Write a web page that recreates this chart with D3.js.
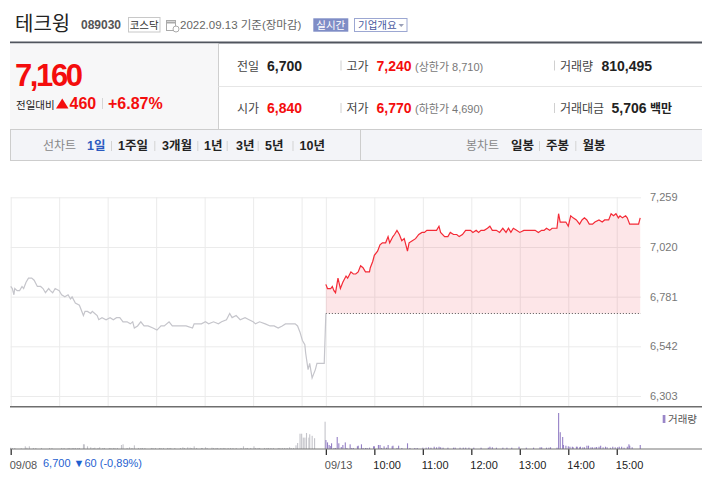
<!DOCTYPE html>
<html>
<head>
<meta charset="utf-8">
<script src="https://cdn.jsdelivr.net/npm/d3@7"></script>
<style>
body { margin: 0; background: #fff; overflow: hidden; }
svg text { font-family: "Liberation Sans", Arial, "Noto Sans CJK KR", sans-serif; }
</style>
</head>
<body>
<div id="chart"></div>
<script>
// ---- data ----
// 09/08 (previous day), minutes from 09:00
var prevMin = [0,2,4,5,8,11,14,16,19,22, 26,29,33,37,40,43,47,49,52,55,
    60,63,67,71,74,76,80,85,90,92, 95,99,101,104,107,109,113,118,123,127,
    131,135,139,144,148,151,153,157,161,165, 170,176,181,186,190,196,200,209,217,225,
    227,232,236,241,245,251,257,261,267,271, 274,279,284,290,295,300,303,308,315,321,
    326,331,336,340,344,348,352,355,358,361, 364,365,368,370,373,377,379,383,388,390];
var prevPrice = [6830,6820,6790,6820,6810,6810,6830,6820,6850,6870, 6870,6860,6830,6830,6820,6800,6820,6810,6800,6820,
    6810,6790,6780,6790,6770,6780,6750,6740,6690,6710, 6710,6700,6710,6700,6690,6670,6680,6670,6680,6670,
    6680,6680,6660,6660,6650,6660,6630,6640,6660,6640, 6640,6630,6620,6640,6640,6660,6640,6640,6640,6630,
    6650,6650,6650,6660,6650,6660,6650,6660,6670,6700, 6680,6690,6670,6680,6670,6660,6650,6660,6650,6640,
    6640,6630,6640,6650,6650,6650,6650,6640,6610,6570, 6550,6510,6430,6460,6390,6430,6460,6460,6460,6700];

// 09/13 (today), minutes from 09:00
var todayMin = [0,2,6,8,10,12,15,18,21,25, 27,31,34,37,40,43,46,49,54,55,
    58,60,64,67,70,74,77,79,83,85, 88,91,94,97,101,103,107,111,115,119,
    122,125,130,133,137,140,142,147,151,154, 158,162,165,169,173,176,179,182,186,189,
    192,196,200,203,206,211,215,219,223,226, 229,232,236,240,245,250,255,259,263,267,
    270,273,277,280,286,288,290,294,297,300, 303,306,310,314,317,320,323,326,330,333,
    338,342,345,350,353,356,359,362,364,367, 371,373,376,380,387,389];
var todayPrice = [6840,6820,6820,6830,6810,6800,6870,6820,6850,6880, 6870,6900,6890,6890,6900,6930,6920,6900,6900,6920,
    6950,6980,7000,7030,7040,7040,7070,7040,7070,7080, 7100,7080,7050,7060,7000,7040,7050,7060,7080,7090,
    7090,7100,7100,7100,7100,7120,7090,7070,7070,7090, 7080,7080,7070,7080,7100,7100,7100,7090,7100,7090,
    7100,7100,7110,7120,7100,7100,7090,7110,7090,7110, 7090,7110,7100,7090,7100,7100,7100,7100,7090,7100,
    7100,7110,7100,7110,7110,7180,7140,7140,7140,7120, 7170,7160,7150,7130,7150,7160,7150,7130,7130,7140,
    7150,7140,7150,7150,7180,7170,7180,7160,7170,7160, 7170,7160,7130,7130,7130,7160];

var prevClose = 6700;

// volume (shares)
var prevVolMin = [0,2,5,13,18,20,23,28,31,38, 48,51,63,66,71,73,76,78,80,83,
    85,90,91,95,99,102,104,108,110,114, 116,122,124,127,129,132,137,139,144,147,
    150,153,158,161,163,166,174,176,179,184, 186,189,194,196,198,203,210,213,215,219,
    222,224,227,230,236,237,241,243,249,251, 254,256,260,263,265,269,272,275,279,285,
    288,291,293,297,301,303,306,308,314,317, 319,322,325,331,333,336,339,342,345,347,
    350,353,355,358,360,362,364,366,369,370, 373,376,389];
var prevVol = [2200,1700,1700,1100,4500,2200,4500,1700,1700,1700, 1700,1700,1700,1700,1700,1700,1700,1700,1700,1700,
    1700,7800,7800,4500,2800,1700,2200,1700,2800,1700, 1700,1700,1700,1700,1700,1700,6700,7800,1700,2800,
    1700,6100,1700,1700,1700,1700,1700,1700,1700,1700, 1700,1700,1700,1700,1700,1700,1700,2800,1700,2800,
    2200,1700,4500,1700,1700,1700,2800,1700,2200,1700, 1700,1700,1700,1700,1700,1700,1700,1700,1700,1700,
    4500,1700,1700,1700,4500,1700,1700,1700,1700,1700, 1700,1700,1700,1700,1700,1700,1700,1700,2800,1700,
    1700,6100,10000,25500,25500,19000,19000,26700,19000,24500, 22000,18000,45500];

var todayVolMin = [0,2,4,6,7,10,12,14,16,19, 21,24,26,30,32,34,39,40,44,46,
    49,51,54,59,60,65,67,69,72,75, 77,82,83,88,90,94,101,104,110,113,
    120,124,127,130,134,137,140,142,145,151, 158,160,166,170,173,177,183,192,201,203,
    206,211,219,224,230,239,248,257,265,267, 273,276,278,286,288,290,293,294,297,300,
    302,305,306,310,311,314,315,318,320,323, 325,328,330,333,335,338,340,343,346,348,
    352,355,358,361,363,366,369,373,375,376, 379,389];
var todayVol = [15000,11000,6700,5000,9500,1700,1700,20000,9500,3300, 6700,11000,1700,7800,1700,1700,4500,5500,7800,1700,
    1700,1700,2200,4500,4500,6700,6700,1700,4500,2200, 6700,4500,5500,1700,5500,1700,9500,1700,1700,1700,
    2200,2200,2800,2200,3800,2800,3800,2800,2200,2200, 2200,2200,2200,2200,2200,2200,2200,2200,2200,3800,
    2800,2200,2200,2200,2200,3800,2200,2200,2800,2800, 2200,2200,2800,2200,60000,28000,20000,6700,5500,4500,
    3800,3800,2800,3800,3800,2800,3800,2800,2800,5500, 5500,2800,2800,2800,3300,3800,5500,2800,3800,2800,
    2200,3800,2800,2800,3800,3800,2200,3800,7800,5500, 2800,6700];

var priceTicks = [6303, 6542, 6781, 7020, 7259];
var gridMins = [60,120,180,240,300,360, 390,450,510,570,630,690,750];
var timeTicks = [0,390,450,510,570,630,690,750];
var timeLabels = ["09/08","09/13","10:00","11:00","12:00","13:00","14:00","15:00"];

var periodTabs = ["1일","1주일","3개월","1년","3년","5년","10년"];
var candleTabs = ["일봉","주봉","월봉"];

// ---- drawing ----
var W = 702, H = 478;
var svg = d3.select("#chart").append("svg").attr("width", W).attr("height", H);

function txt(x, y, s, size, color, weight, anchor) {
    return svg.append("text")
        .attr("x", x).attr("y", y)
        .attr("font-size", size)
        .attr("fill", color)
        .attr("font-weight", weight || "normal")
        .attr("text-anchor", anchor || "start")
        .text(s);
}
function hline(x1, x2, y, color, w) {
    svg.append("line").attr("x1", x1).attr("x2", x2).attr("y1", y).attr("y2", y)
        .attr("stroke", color).attr("stroke-width", w || 1);
}
function vline(x, y1, y2, color, w) {
    svg.append("line").attr("x1", x).attr("x2", x).attr("y1", y1).attr("y2", y2)
        .attr("stroke", color).attr("stroke-width", w || 1);
}

// title row
txt(15, 31, "테크윙", 20, "#222").attr("font-family", "Noto Sans CJK KR");
txt(81, 28.5, "089030", 12, "#555", "bold");
svg.append("rect").attr("x", 128.5).attr("y", 17.5).attr("width", 31.5).attr("height", 14.5)
    .attr("fill", "#fff").attr("stroke", "#c8c8c8");
txt(144.2, 28.5, "코스닥", 10.5, "#333", "normal", "middle");
svg.append("rect").attr("x", 166.5).attr("y", 20.5).attr("width", 9).attr("height", 10)
    .attr("fill", "#fff").attr("stroke", "#aaa");
hline(166.5, 175.5, 22.5, "#aaa", 2);
svg.append("circle").attr("cx", 176).attr("cy", 29).attr("r", 3).attr("fill", "#fff").attr("stroke", "#aaa");
txt(180, 29, "2022.09.13 기준(장마감)", 11.5, "#666");
svg.append("rect").attr("x", 313.3).attr("y", 18.3).attr("width", 35).attr("height", 13.4).attr("fill", "#7f8dc6");
txt(330.8, 28.5, "실시간", 10.5, "#fff", "normal", "middle");
svg.append("rect").attr("x", 354.5).attr("y", 18.5).attr("width", 52.5).attr("height", 13)
    .attr("fill", "#fff").attr("stroke", "#9ca7d2");
txt(358, 28.5, "기업개요", 10.5, "#4a5aa0");
svg.append("path").attr("d", "M398.5,24 L404,24 L401.25,27 Z").attr("fill", "#9aa0b8");

// dark rule
svg.append("rect").attr("x", 10).attr("y", 41.5).attr("width", 692).attr("height", 2).attr("fill", "#50555e");

// price summary panel
svg.append("rect").attr("x", 10).attr("y", 43.5).attr("width", 208).attr("height", 85.5).attr("fill", "#f7f7f8");
vline(218.5, 43.5, 129, "#cfcfcf");
hline(218.5, 702, 86.5, "#e6e6e6");
txt(15, 86, "7,160", 31, "#f40d0d", "bold").attr("letter-spacing", -2.4);
txt(16, 108.5, "전일대비", 10.5, "#222");
svg.append("path").attr("d", "M56,108.5 L68.5,108.5 L62.25,98.5 Z").attr("fill", "#f40d0d");
txt(69.5, 109, "460", 16, "#f40d0d", "bold");
vline(102.5, 98, 109, "#d6d6d6");
txt(108, 109, "+6.87%", 16, "#f40d0d", "bold");

// quote table
var rowY = [70.5, 113];
txt(237, rowY[0], "전일", 12, "#444");
txt(267, rowY[0], "6,700", 14, "#222", "bold");
txt(346.5, rowY[0], "고가", 12, "#444");
txt(376.5, rowY[0], "7,240", 14, "#f40d0d", "bold");
txt(415, rowY[0], "(상한가 8,710)", 11, "#777");
txt(560, rowY[0], "거래량", 12, "#444");
txt(601.5, rowY[0], "810,495", 14, "#222", "bold");
txt(237, rowY[1], "시가", 12, "#444");
txt(267, rowY[1], "6,840", 14, "#f40d0d", "bold");
txt(346.5, rowY[1], "저가", 12, "#444");
txt(376.5, rowY[1], "6,770", 14, "#f40d0d", "bold");
txt(415, rowY[1], "(하한가 4,690)", 11, "#777");
txt(560, rowY[1], "거래대금", 12, "#444");
txt(611.5, rowY[1], "5,706", 14, "#222", "bold");
txt(650, rowY[1], "백만", 12, "#222", "bold");
rowY.forEach(function (y) {
    vline(341, y - 10, y, "#d0d0d0");
    vline(554.5, y - 10, y, "#d0d0d0");
});

// tab row
svg.append("rect").attr("x", 10.5).attr("y", 129.5).attr("width", 692).attr("height", 31)
    .attr("fill", "#f3f4f8").attr("stroke", "#cdcdcd");
vline(360.5, 129.5, 160.5, "#cdcdcd");
txt(43, 150, "선차트", 12, "#888");
var periodX = [87, 118, 162, 204, 236, 265, 299.5];
var periodSep = [111, 154.3, 197.3, 226.7, 257.7, 292.5];
periodTabs.forEach(function (t, i) {
    txt(periodX[i], 150, t, 12.5, i == 0 ? "#2a59c0" : "#222", "bold");
});
periodSep.forEach(function (x) { vline(x + 0.5, 141, 151, "#d3d3d3"); });
txt(466, 150, "봉차트", 12, "#888");
var candleX = [511, 546, 582.5];
candleTabs.forEach(function (t, i) { txt(candleX[i], 150, t, 12.5, "#222", "bold"); });
[539, 575.3].forEach(function (x) { vline(x + 0.5, 141, 151, "#d3d3d3"); });

// ---- chart ----
var x = d3.scaleLinear().domain([0, 780]).range([10.7, 641]);
var y = d3.scaleLinear().domain([6303, 7259]).range([396, 197.3]);
var yv = d3.scaleLinear().domain([0, 60000]).range([449, 413]);

var grid = svg.append("g");
grid.append("g")
    .attr("transform", "translate(641,0)")
    .call(d3.axisRight(y).tickValues(priceTicks).tickSize(-630.3).tickPadding(9).tickFormat(d3.format(",")))
    .call(function (g) {
        g.select(".domain").remove();
        g.selectAll("line").attr("stroke", "#ebebeb");
        g.selectAll("text").attr("fill", "#777").attr("font-size", 11)
            .attr("font-family", "Liberation Sans, Arial, sans-serif");
    });
grid.append("g")
    .attr("transform", "translate(0,406.7)")
    .call(d3.axisBottom(x).tickValues([0].concat(gridMins)).tickSize(-(406.7 - 197.3)).tickFormat(""))
    .call(function (g) {
        g.select(".domain").remove();
        g.selectAll("line").attr("stroke", "#ebebeb");
    });

// today's fill over previous close
var todayPts = todayMin.map(function (m, i) { return [390 + m, todayPrice[i]]; });
var prevPts = prevMin.map(function (m, i) { return [m, prevPrice[i]]; });

svg.append("path")
    .datum(todayPts)
    .attr("d", d3.area().x(function (d) { return x(d[0]); }).y0(y(prevClose)).y1(function (d) { return y(d[1]); }))
    .attr("fill", "rgba(240,60,80,0.13)");

svg.append("line")
    .attr("x1", x(390)).attr("x2", x(780))
    .attr("y1", y(prevClose)).attr("y2", y(prevClose))
    .attr("stroke", "#555").attr("stroke-width", 1).attr("stroke-dasharray", "1,2");

var line = d3.line().x(function (d) { return x(d[0]); }).y(function (d) { return y(d[1]); });
svg.append("path").datum(prevPts).attr("d", line)
    .attr("fill", "none").attr("stroke", "#c5c5cb").attr("stroke-width", 1.2);
svg.append("path").datum(todayPts).attr("d", line)
    .attr("fill", "none").attr("stroke", "#f42a36").attr("stroke-width", 1.2);

// separators
hline(10, 702, 406.7, "#6e6e6e", 1.4);

// volume bars
svg.append("g").selectAll("rect").data(prevVolMin).join("rect")
    .attr("x", function (m) { return x(m) - 0.5; })
    .attr("width", 1.1)
    .attr("y", function (m, i) { return yv(prevVol[i]); })
    .attr("height", function (m, i) { return 449 - yv(prevVol[i]); })
    .attr("fill", "#c4c4ca");
svg.append("g").selectAll("rect").data(todayVolMin).join("rect")
    .attr("x", function (m) { return x(390 + m) - 0.5; })
    .attr("width", 1.1)
    .attr("y", function (m, i) { return yv(todayVol[i]); })
    .attr("height", function (m, i) { return 449 - yv(todayVol[i]); })
    .attr("fill", "#9580c6");

// time axis
svg.append("g")
    .attr("transform", "translate(0,449)")
    .call(d3.axisBottom(x).tickValues(timeTicks).tickSize(6).tickPadding(4)
        .tickFormat(function (d, i) { return timeLabels[i]; }))
    .call(function (g) {
        g.select(".domain").remove();
        g.selectAll("line").attr("stroke", "#333").attr("stroke-width", 1.3);
        g.selectAll("text").attr("text-anchor", "start").attr("dx", -1.5).attr("dy", "0.9em")
            .attr("font-size", 11).attr("font-family", "Liberation Sans, Arial, sans-serif")
            .attr("fill", function (d, i) { return i < 2 ? "#555" : "#222"; });
    });
hline(10, 702, 449, "#777", 1.2);
txt(43, 466.5, "6,700 ▼60 (-0,89%)", 11, "#1f5fd0");

// legend
svg.append("rect").attr("x", 662.7).attr("y", 415).attr("width", 2.7).attr("height", 8).attr("fill", "#9a86c8");
txt(668, 423, "거래량", 10.5, "#555");
</script>
</body>
</html>
